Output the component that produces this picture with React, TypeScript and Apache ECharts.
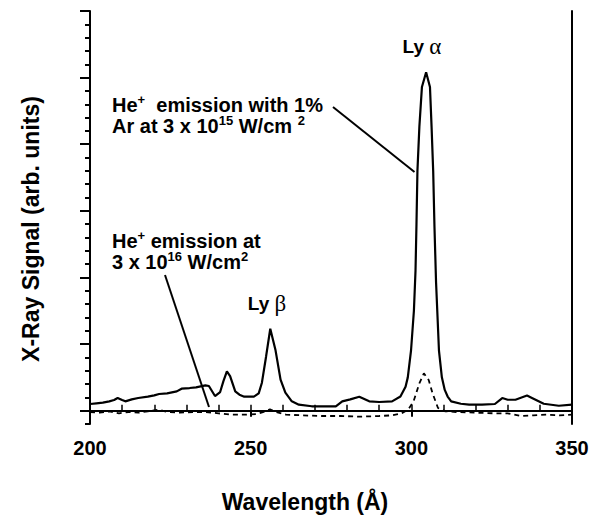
import React, { useEffect, useRef } from "react";
import * as echarts from "echarts";

// Solid curve: He+ emission with 1% Ar at 3e15 W/cm2
const solidWavelengths = [
  200, 202, 204, 206, 207.5, 208.6, 210, 211, 213, 215, 218, 220, 221.5, 224, 227, 228.5, 231, 233,
  235.9, 237, 238.9, 240.5, 241.5, 242.6, 243.6, 245.2, 246.5, 248, 251, 252.5, 253.5, 254.8, 256.1,
  257.7, 259.3, 260.8, 262.8, 265, 269, 276.5, 278.5, 281, 283.8, 286.9, 290, 294, 296.6, 298.2,
  298.9, 299.9, 300.8, 301.3, 301.6, 301.9, 302.5, 303.3, 304.6, 305.8, 306.3, 306.8, 307.2, 307.7,
  308.6, 309.5, 310.4, 311.3, 312.4, 315.4, 318, 322, 326, 328.3, 330, 332.4, 336, 337.7, 341.2,
  345.9, 350,
];
const solidSignal = [
  0.5, 0.55, 0.6, 0.7, 0.8, 0.95, 0.8, 0.7, 0.85, 0.95, 1.05, 1.15, 1.25, 1.3, 1.45, 1.65, 1.7, 1.75,
  1.9, 1.85, 1.1, 1.4, 2.2, 2.95, 2.6, 1.45, 1.2, 1.05, 1.05, 1.3, 2.1, 4.07, 6.15,
  4.58, 2.33, 1.35, 0.7, 0.45, 0.33, 0.33, 0.7, 0.85, 1.05, 0.7, 0.65, 0.7, 1.06, 1.8,
  2.5, 4.5, 7.5, 10.5, 14, 18, 21.3, 24.3, 25.4, 24.3, 21.3, 18, 13.8, 9.6,
  4.5, 2.5, 1.56, 1.06, 0.7, 0.52, 0.45, 0.45, 0.5, 0.95, 0.82, 0.82, 1.14, 0.94, 0.52,
  0.37, 0.45,
];

// Dashed curve: He+ emission at 3e16 W/cm2
const dashedWavelengths = [
  200, 203, 206, 209, 212, 215, 218, 221.5, 224, 228, 232, 236, 240, 244, 248, 252, 254.5, 256,
  258, 261, 266, 272, 278, 284, 290, 294, 297, 299, 300.7, 302.5, 303.9, 305.4, 306.6, 308.3,
  310.6, 314, 320, 326, 330, 334, 338, 342, 346, 350,
];
const dashedSignal = [
  -0.1, -0.15, -0.05, -0.2, -0.1, -0.15, -0.05, 0.07, -0.1, -0.15, -0.1, -0.1, -0.2, -0.3, -0.3,
  -0.25, -0.05, 0.1, -0.1, -0.3, -0.35, -0.4, -0.4, -0.45, -0.4, -0.35, -0.2, 0.07, 0.7, 2.05, 2.8,
  2.3, 1.31, 0.2, -0.05, -0.1, -0.15, -0.2, -0.2, -0.4, -0.35, -0.3, -0.35, -0.3,
];

const xTickValues = [200, 250, 300, 350];
const yMajorTicks = [0, 5, 10, 15, 20, 25, 30];

const SANS = "'Liberation Sans', Arial, Helvetica, sans-serif";
const SERIF = "'Liberation Serif', 'Times New Roman', serif";

export default function App() {
  const ref = useRef<HTMLDivElement>(null);

  useEffect(() => {
    if (!ref.current) return;
    document.body.style.margin = "0";
    const chart = echarts.init(ref.current, undefined, { renderer: "svg" });

    const solidData = solidWavelengths.map((w, i) => [w, solidSignal[i]]);
    const dashedData = dashedWavelengths.map((w, i) => [w, dashedSignal[i]]);

    const sup = { fontSize: 13, fontWeight: "bold", fontFamily: SANS, fill: "#000", verticalAlign: "top", lineHeight: 12 } as any;
    const mainText = { fontSize: 20, fontWeight: "bold", fontFamily: SANS, fill: "#000", lineHeight: 24 } as any;

    const annText = (x: number, y: number, text: string) => ({
      type: "text",
      x,
      y,
      style: {
        text,
        fill: "#000",
        fontSize: 20,
        fontWeight: "bold",
        fontFamily: SANS,
        verticalAlign: "middle",
        align: "left",
        rich: { sup, t: mainText },
      },
    });

    const frameAxis = { show: true, lineStyle: { color: "#000", width: 2 } };

    chart.setOption({
      animation: false,
      backgroundColor: "#fff",
      grid: {
        left: 90,
        right: 20,
        top: 11,
        bottom: 93,
      },
      xAxis: [
        {
          type: "value",
          min: 200,
          max: 350,
          interval: 10,
          position: "bottom",
          axisLine: frameAxis,
          axisTick: { show: true, inside: true, length: 6, lineStyle: { color: "#000", width: 1.5 } },
          axisLabel: { show: false },
          splitLine: { show: false },
        },
        {
          type: "value",
          min: 200,
          max: 350,
          interval: 50,
          position: "bottom",
          axisLine: { show: false },
          axisTick: {
            show: true,
            inside: false,
            length: 6,
            customValues: xTickValues,
            lineStyle: { color: "#000", width: 2 },
          },
          axisLabel: {
            show: true,
            customValues: xTickValues,
            color: "#000",
            fontSize: 20,
            fontWeight: "bold",
            fontFamily: SANS,
            margin: 14,
          },
          splitLine: { show: false },
        },
        {
          type: "value",
          min: 200,
          max: 350,
          position: "top",
          axisLine: frameAxis,
          axisTick: { show: false },
          axisLabel: { show: false },
          splitLine: { show: false },
        },
      ],
      yAxis: [
        {
          type: "value",
          min: -1,
          max: 30,
          interval: 1,
          position: "left",
          axisLine: frameAxis,
          axisTick: { show: true, inside: false, length: 5, lineStyle: { color: "#000", width: 2 } },
          axisLabel: { show: false },
          splitLine: { show: false },
        },
        {
          type: "value",
          min: -1,
          max: 30,
          position: "left",
          axisLine: { show: false },
          axisTick: {
            show: true,
            inside: false,
            length: 10,
            customValues: yMajorTicks,
            lineStyle: { color: "#000", width: 2 },
          },
          axisLabel: { show: false },
          splitLine: { show: false },
        },
        {
          type: "value",
          min: -1,
          max: 30,
          position: "right",
          axisLine: frameAxis,
          axisTick: { show: false },
          axisLabel: { show: false },
          splitLine: { show: false },
        },
      ],
      series: [
        {
          type: "line",
          xAxisIndex: 0,
          yAxisIndex: 0,
          data: solidData,
          showSymbol: false,
          symbol: "none",
          lineStyle: { color: "#000", width: 2.2 },
          z: 3,
        },
        {
          type: "line",
          xAxisIndex: 0,
          yAxisIndex: 0,
          data: dashedData,
          showSymbol: false,
          symbol: "none",
          lineStyle: { color: "#000", width: 1.8, type: [5, 4] },
          z: 2,
        },
      ],
      graphic: [
        {
          type: "text",
          x: 31,
          y: 229,
          rotation: Math.PI / 2,
          style: {
            text: "X-Ray Signal (arb. units)",
            fill: "#000",
            fontSize: 23,
            fontWeight: "bold",
            fontFamily: SANS,
            align: "center",
            verticalAlign: "middle",
          },
        },
        {
          type: "text",
          x: 305,
          y: 502,
          style: {
            text: "Wavelength (Å)",
            fill: "#000",
            fontSize: 23,
            fontWeight: "bold",
            fontFamily: SANS,
            align: "center",
            verticalAlign: "middle",
          },
        },
        {
          type: "text",
          x: 422,
          y: 46,
          style: {
            text: "Ly {g|α}",
            fill: "#000",
            fontSize: 19,
            fontWeight: "bold",
            fontFamily: SANS,
            align: "center",
            verticalAlign: "middle",
            rich: { g: { fontSize: 23, fontFamily: SERIF, fontWeight: "normal", fill: "#000" } },
          },
        },
        {
          type: "text",
          x: 267,
          y: 303,
          style: {
            text: "Ly {g|β}",
            fill: "#000",
            fontSize: 19,
            fontWeight: "bold",
            fontFamily: SANS,
            align: "center",
            verticalAlign: "middle",
            rich: { g: { fontSize: 23, fontFamily: SERIF, fontWeight: "normal", fill: "#000" } },
          },
        },
        annText(112, 105, "{t|He}{sup|+}{t|  emission with 1%}"),
        annText(112, 126, "{t|Ar at 3 x 10}{sup|15}{t| W/cm }{sup|2}"),
        annText(112, 241, "{t|He}{sup|+}{t| emission at}"),
        annText(112, 262, "{t|3 x 10}{sup|16}{t| W/cm}{sup|2}"),
        {
          type: "line",
          shape: { x1: 333, y1: 107, x2: 414.5, y2: 172 },
          style: { stroke: "#000", lineWidth: 2 },
        },
        {
          type: "line",
          shape: { x1: 165, y1: 275, x2: 209, y2: 407 },
          style: { stroke: "#000", lineWidth: 2 },
        },
      ],
    });

    return () => chart.dispose();
  }, []);

  return <div ref={ref} style={{ width: 592, height: 517 }} />;
}
